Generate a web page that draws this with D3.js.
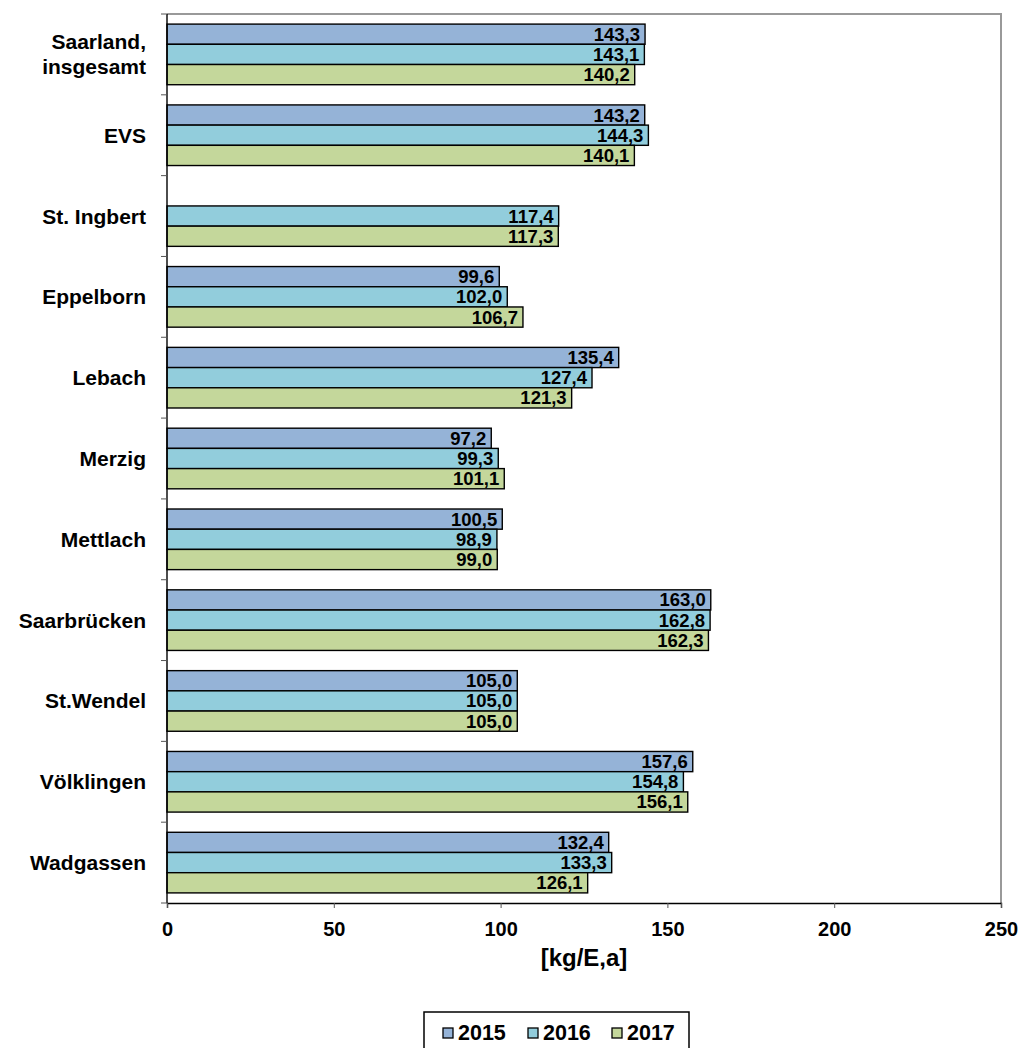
<!DOCTYPE html>
<html>
<head>
<meta charset="utf-8">
<script src="https://cdn.jsdelivr.net/npm/d3@7"></script>
<style>
  html, body { margin: 0; padding: 0; background: #fff; }
  svg { display: block; font-family: "Liberation Sans", Arial, sans-serif; font-weight: bold; }
</style>
</head>
<body>
<svg id="chart" width="1023" height="1048"></svg>
<script>
// Waste per inhabitant by area, kg per inhabitant and year
const categories = ["Saarland,\ninsgesamt", "EVS", "St. Ingbert", "Eppelborn", "Lebach", "Merzig",
  "Mettlach", "Saarbrücken", "St.Wendel", "Völklingen", "Wadgassen"];
const years = ["2015", "2016", "2017"];
const values2015 = [143.3, 143.2, null, 99.6, 135.4, 97.2, 100.5, 163.0, 105.0, 157.6, 132.4];
const values2016 = [143.1, 144.3, 117.4, 102.0, 127.4, 99.3, 98.9, 162.8, 105.0, 154.8, 133.3];
const values2017 = [140.2, 140.1, 117.3, 106.7, 121.3, 101.1, 99.0, 162.3, 105.0, 156.1, 126.1];
const xTicks = [0, 50, 100, 150, 200, 250];
const axisTitle = "[kg/E,a]";
const colors = ["#95B3D7", "#92CDDC", "#C4D79B"];

const series = [values2015, values2016, values2017];

const svg = d3.select("#chart");
const plot = { left: 167, right: 1001, top: 14, bottom: 903 };

const x = d3.scaleLinear().domain([0, 250]).range([plot.left, plot.right]);
const y = d3.scaleBand().domain(categories).range([plot.top, plot.bottom]).paddingInner(0).paddingOuter(0);
const inner = d3.scaleBand().domain(years).range([y.bandwidth() * 0.125, y.bandwidth() * 0.875]);

const fmt = v => d3.format(".1f")(v).replace(".", ",");

// plot frame: grey top/right edges
svg.append("path")
  .attr("d", `M${plot.left},${plot.top}H${plot.right}V${plot.bottom}`)
  .attr("fill", "none").attr("stroke", "#999").attr("stroke-width", 2);

// bars and their value labels, one group per year
years.forEach((yr, si) => {
  const data = categories.map((c, i) => ({ c, v: series[si][i] })).filter(d => d.v != null);
  const g = svg.append("g");
  g.selectAll("rect")
    .data(data)
    .join("rect")
    .attr("x", x(0))
    .attr("y", d => y(d.c) + inner(yr))
    .attr("width", d => x(d.v) - x(0))
    .attr("height", inner.bandwidth())
    .attr("fill", colors[si])
    .attr("stroke", "#000")
    .attr("stroke-width", 1.4);
  g.selectAll("text")
    .data(data)
    .join("text")
    .attr("x", d => x(d.v) - 5)
    .attr("y", d => y(d.c) + inner(yr) + inner.bandwidth() / 2 + 6.5)
    .attr("text-anchor", "end")
    .attr("font-size", 18.5)
    .attr("fill", "#000")
    .text(d => fmt(d.v));
});

// y axis with ticks at category boundaries
const yAxis = svg.append("g");
yAxis.append("line")
  .attr("x1", plot.left).attr("x2", plot.left)
  .attr("y1", plot.top).attr("y2", plot.bottom)
  .attr("stroke", "#000").attr("stroke-width", 1.4);
const bounds = categories.map(c => y(c)).concat([plot.bottom]);
yAxis.selectAll("line.tick")
  .data(bounds)
  .join("line")
  .attr("class", "tick")
  .attr("x1", plot.left - 6).attr("x2", plot.left)
  .attr("y1", d => d).attr("y2", d => d)
  .attr("stroke", "#555").attr("stroke-width", 1);

// category labels
const labels = svg.append("g").selectAll("text")
  .data(categories)
  .join("text")
  .attr("text-anchor", "end")
  .attr("font-size", 21)
  .attr("fill", "#000");
labels.each(function (d) {
  const lines = d.split("\n");
  const cy = y(d) + y.bandwidth() / 2;
  const lh = 25;
  const start = cy - (lines.length - 1) * lh / 2 + 7.5;
  d3.select(this).selectAll("tspan")
    .data(lines)
    .join("tspan")
    .attr("x", 146)
    .attr("y", (l, i) => start + i * lh)
    .text(l => l);
});

// x axis
const xAxis = svg.append("g")
  .attr("transform", `translate(0,${plot.bottom})`)
  .call(d3.axisBottom(x).tickValues(xTicks).tickSize(5).tickPadding(14).tickFormat(d3.format("d")));
xAxis.select(".domain").attr("stroke", "#000").attr("stroke-width", 1.4);
xAxis.selectAll(".tick line").attr("stroke", "#555");
xAxis.selectAll(".tick text")
  .attr("font-size", 20).attr("font-family", "Liberation Sans, Arial, sans-serif")
  .attr("font-weight", "bold").attr("fill", "#000");

svg.append("text")
  .attr("x", x(125))
  .attr("y", 966)
  .attr("text-anchor", "middle")
  .attr("font-size", 24)
  .attr("fill", "#000")
  .text(axisTitle);

// legend
const legend = svg.append("g");
legend.append("rect")
  .attr("x", 424).attr("y", 1012).attr("width", 265).attr("height", 50)
  .attr("fill", "#fff").attr("stroke", "#000").attr("stroke-width", 1.5);
const legX = [443, 528, 612];
years.forEach((yr, i) => {
  legend.append("rect")
    .attr("x", legX[i]).attr("y", 1028).attr("width", 10).attr("height", 10)
    .attr("fill", colors[i]).attr("stroke", "#000").attr("stroke-width", 1.3);
  legend.append("text")
    .attr("x", legX[i] + 15).attr("y", 1040)
    .attr("font-size", 21.5)
    .attr("fill", "#000")
    .text(yr);
});
</script>
</body>
</html>
